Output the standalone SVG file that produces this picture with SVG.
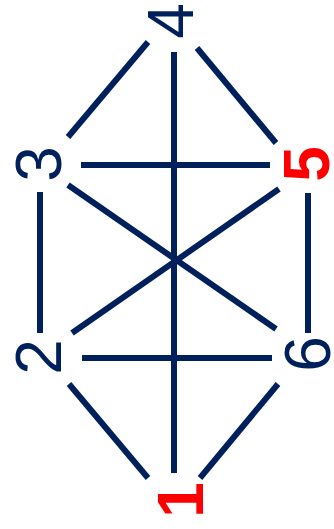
<svg xmlns="http://www.w3.org/2000/svg" width="334" height="529" viewBox="0 0 334 529">
<style>
.e{stroke:#00205b;stroke-width:6;fill:none}
.n{font-family:"Liberation Sans",Arial,sans-serif;font-size:64px;text-anchor:middle;fill:#00205b}
.r{fill:#ff0000;font-weight:bold}
</style>
<rect width="334" height="529" fill="#ffffff"/>
<g id="edges">
<line class="e" x1="68" y1="137" x2="148" y2="42"/>
<line class="e" x1="174" y1="52" x2="174" y2="473"/>
<line class="e" x1="197" y1="48" x2="276" y2="143"/>
<line class="e" x1="81" y1="165" x2="270" y2="165"/>
<line class="e" x1="40" y1="192" x2="40" y2="333"/>
<line class="e" x1="68" y1="185" x2="276" y2="329"/>
<line class="e" x1="279" y1="189" x2="72" y2="333"/>
<line class="e" x1="308" y1="193" x2="308" y2="333"/>
<line class="e" x1="82" y1="358" x2="272" y2="358"/>
<line class="e" x1="69" y1="384" x2="148" y2="478"/>
<line class="e" x1="278" y1="384" x2="200" y2="478"/>
</g>
<g id="node4"><text class="n" transform="translate(170,21) rotate(-90)" y="23">4</text></g>
<g id="node3"><text class="n" transform="translate(38,164) rotate(-90)" y="23">3</text></g>
<g id="node5"><text class="n r" transform="translate(306,164) rotate(-90)" y="23">5</text></g>
<g id="node2"><text class="n" transform="translate(38,357) rotate(-90)" y="23">2</text></g>
<g id="node6"><text class="n" transform="translate(307,354) rotate(-90)" y="23">6</text></g>
<g id="node1"><text class="n r" transform="translate(180,500) rotate(-90)" y="23">1</text></g>
</svg>
